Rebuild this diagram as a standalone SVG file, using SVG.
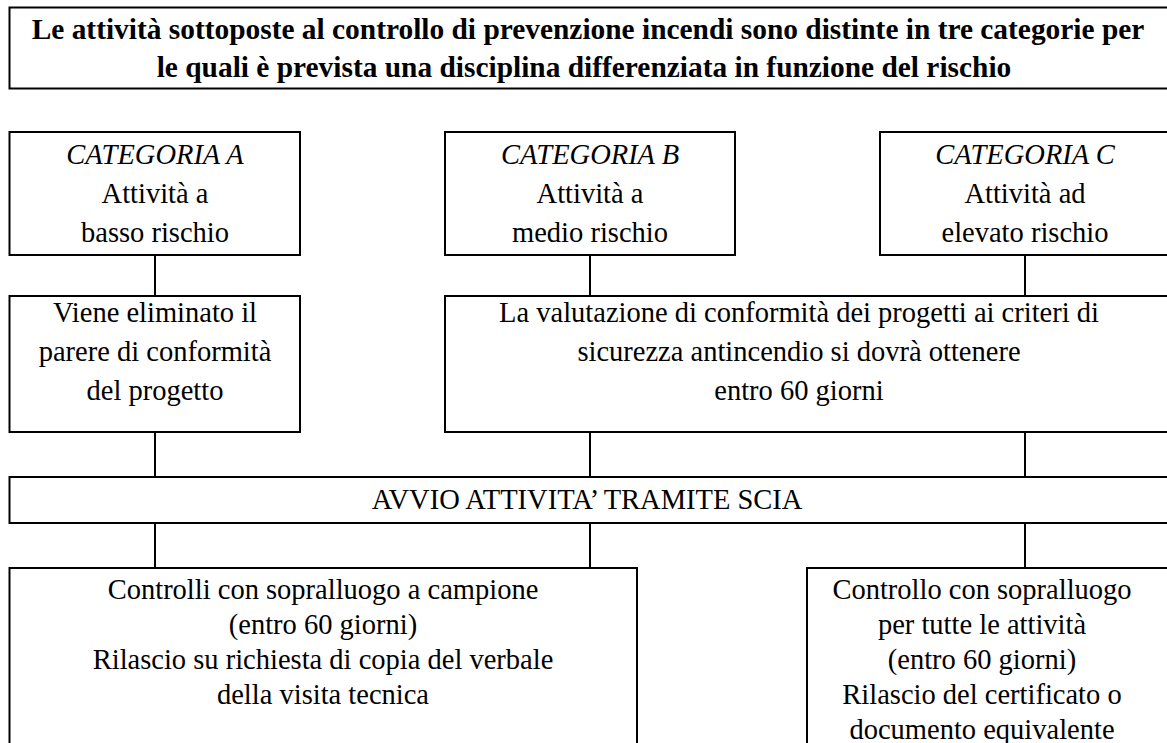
<svg xmlns="http://www.w3.org/2000/svg" width="1167" height="743" viewBox="0 0 1167 743">
<style>
.box{fill:#fff;stroke:#000;stroke-width:2}
.t{font-family:'Liberation Serif','Times New Roman',serif;font-size:28.5px;fill:#000;text-anchor:middle}
.b{font-weight:bold;font-size:29.4px}
.i{font-style:italic}
.c{stroke:#000;stroke-width:2;fill:none}
</style>
<rect width="1167" height="743" fill="#fff"/>
<g id="connectors">
<line class="c" x1="155" y1="255" x2="155" y2="296"/>
<line class="c" x1="590" y1="255" x2="590" y2="296"/>
<line class="c" x1="1025" y1="255" x2="1025" y2="296"/>
<line class="c" x1="155" y1="432" x2="155" y2="477"/>
<line class="c" x1="590" y1="432" x2="590" y2="477"/>
<line class="c" x1="1025" y1="432" x2="1025" y2="477"/>
<line class="c" x1="155" y1="523" x2="155" y2="568"/>
<line class="c" x1="590" y1="523" x2="590" y2="568"/>
<line class="c" x1="1025" y1="523" x2="1025" y2="568"/>
</g>
<g id="title">
<rect class="box" x="9.5" y="7.5" width="1170" height="81"/>
<text class="t b" x="588" y="39">Le attività sottoposte al controllo di prevenzione incendi sono distinte in tre categorie per</text>
<text class="t b" x="584" y="77">le quali è prevista una disciplina differenziata in funzione del rischio</text>
</g>
<g id="catA">
<rect class="box" x="9.5" y="132" width="290.5" height="123"/>
<text class="t i" x="155" y="164">CATEGORIA A</text>
<text class="t" x="155" y="203">Attività a</text>
<text class="t" x="155" y="242">basso rischio</text>
</g>
<g id="catB">
<rect class="box" x="445" y="132" width="290" height="123"/>
<text class="t i" x="590" y="164">CATEGORIA B</text>
<text class="t" x="590" y="203">Attività a</text>
<text class="t" x="590" y="242">medio rischio</text>
</g>
<g id="catC">
<rect class="box" x="880" y="132" width="300" height="123"/>
<text class="t i" x="1025" y="164">CATEGORIA C</text>
<text class="t" x="1025" y="203">Attività ad</text>
<text class="t" x="1025" y="242">elevato rischio</text>
</g>
<g id="elimina">
<rect class="box" x="9.5" y="296" width="290.5" height="136"/>
<text class="t" x="155" y="322">Viene eliminato il</text>
<text class="t" x="155" y="361">parere di conformità</text>
<text class="t" x="155" y="400">del progetto</text>
</g>
<g id="valutazione">
<rect class="box" x="445" y="296" width="735" height="136"/>
<text class="t" x="799" y="322">La valutazione di conformità dei progetti ai criteri di</text>
<text class="t" x="799" y="361">sicurezza antincendio si dovrà ottenere</text>
<text class="t" x="799" y="400">entro 60 giorni</text>
</g>
<g id="scia">
<rect class="box" x="9.5" y="477" width="1170" height="46"/>
<text class="t" x="587" y="509">AVVIO ATTIVITA’ TRAMITE SCIA</text>
</g>
<g id="campione">
<rect class="box" x="9.5" y="568" width="627.5" height="220"/>
<text class="t" x="323" y="599">Controlli con sopralluogo a campione</text>
<text class="t" x="323" y="634">(entro 60 giorni)</text>
<text class="t" x="323" y="669">Rilascio su richiesta di copia del verbale</text>
<text class="t" x="323" y="704">della visita tecnica</text>
</g>
<g id="tutte">
<rect class="box" x="807" y="568" width="373" height="220"/>
<text class="t" x="982" y="599">Controllo con sopralluogo</text>
<text class="t" x="982" y="634">per tutte le attività</text>
<text class="t" x="982" y="669">(entro 60 giorni)</text>
<text class="t" x="982" y="704">Rilascio del certificato o</text>
<text class="t" x="982" y="739">documento equivalente</text>
</g>
</svg>
